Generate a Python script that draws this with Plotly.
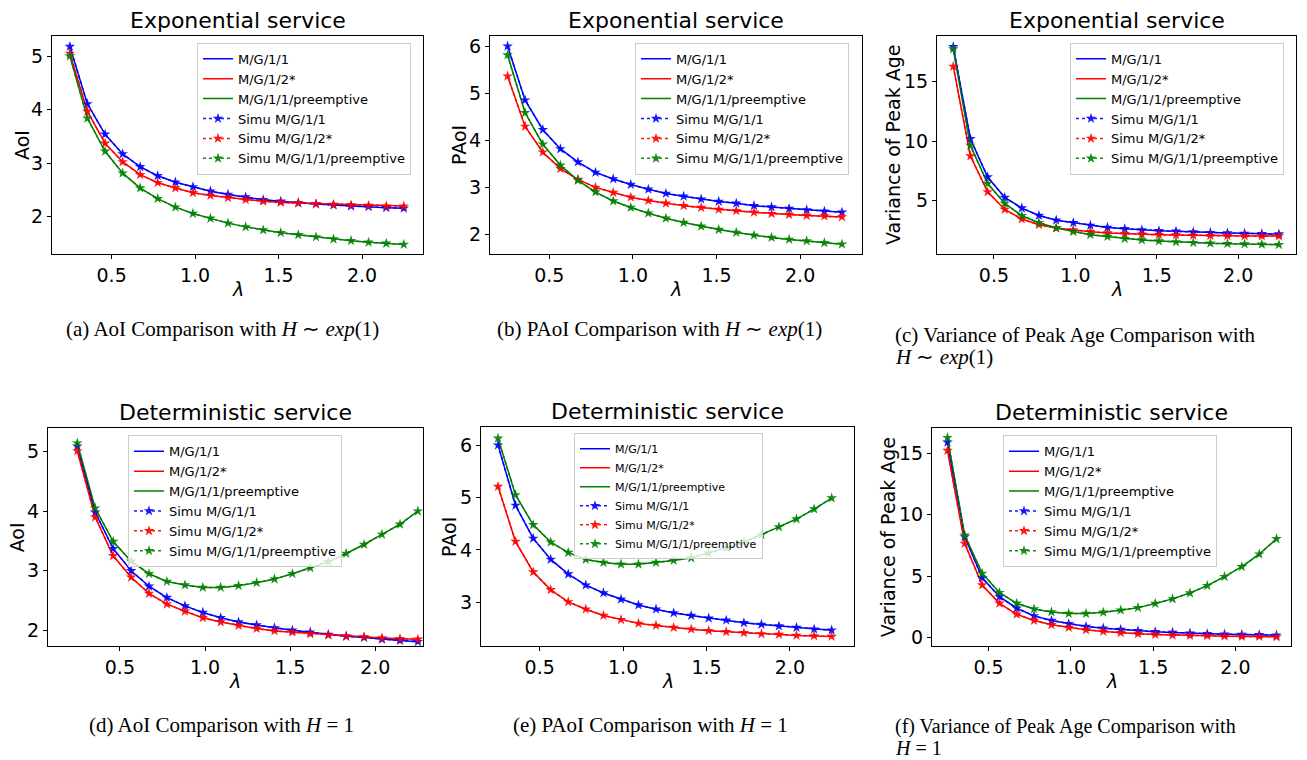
import plotly.graph_objects as go

W, H = 1307, 760

lam = [0.25, 0.355, 0.461, 0.566, 0.671, 0.776, 0.882, 0.987, 1.092, 1.197,
       1.303, 1.408, 1.513, 1.618, 1.724, 1.829, 1.934, 2.039, 2.145, 2.25]

series_names = ["M/G/1/1", "M/G/1/2*", "M/G/1/1/preemptive"]
simu_names = ["Simu M/G/1/1", "Simu M/G/1/2*", "Simu M/G/1/1/preemptive"]
colors = ["#0000ff", "#ff0000", "#008000"]

# (a) AoI, exponential service
exp_aoi_mg11 = [5.19, 4.11, 3.54, 3.17, 2.93, 2.76, 2.64, 2.55, 2.47, 2.41,
                2.36, 2.31, 2.28, 2.25, 2.23, 2.21, 2.19, 2.18, 2.16, 2.15]
exp_aoi_mg12 = [5.06, 3.97, 3.37, 3.02, 2.78, 2.63, 2.53, 2.44, 2.39, 2.35,
                2.31, 2.28, 2.26, 2.25, 2.23, 2.22, 2.21, 2.20, 2.19, 2.19]
exp_aoi_pre = [5.01, 3.84, 3.22, 2.81, 2.53, 2.33, 2.17, 2.05, 1.96, 1.87,
               1.80, 1.74, 1.69, 1.65, 1.61, 1.57, 1.54, 1.51, 1.49, 1.47]

# (b) PAoI, exponential service
exp_paoi_mg11 = [6.01, 4.86, 4.23, 3.82, 3.54, 3.32, 3.18, 3.06, 2.96, 2.87,
                 2.81, 2.75, 2.70, 2.66, 2.61, 2.58, 2.55, 2.52, 2.49, 2.47]
exp_paoi_mg12 = [5.37, 4.30, 3.75, 3.40, 3.17, 3.00, 2.89, 2.79, 2.72, 2.66,
                 2.61, 2.57, 2.53, 2.50, 2.47, 2.44, 2.42, 2.40, 2.39, 2.37]
exp_paoi_pre = [5.82, 4.59, 3.92, 3.47, 3.15, 2.90, 2.71, 2.57, 2.45, 2.34,
                2.25, 2.17, 2.10, 2.04, 1.98, 1.93, 1.89, 1.86, 1.82, 1.79]

# (c) Variance of peak age, exponential service
exp_var_mg11 = [17.92, 10.21, 7.00, 5.28, 4.39, 3.77, 3.38, 3.16, 2.94, 2.77,
                2.66, 2.55, 2.49, 2.44, 2.38, 2.33, 2.30, 2.27, 2.24, 2.21]
exp_var_mg12 = [16.28, 8.76, 5.75, 4.28, 3.47, 3.00, 2.72, 2.55, 2.41, 2.30,
                2.24, 2.19, 2.16, 2.13, 2.10, 2.08, 2.07, 2.06, 2.05, 2.05]
exp_var_pre = [17.73, 9.65, 6.45, 4.78, 3.75, 3.16, 2.72, 2.41, 2.16, 2.00,
               1.83, 1.72, 1.63, 1.55, 1.49, 1.44, 1.41, 1.38, 1.35, 1.32]

# (d) AoI, deterministic service
det_aoi_mg11 = [5.09, 3.98, 3.37, 3.00, 2.74, 2.55, 2.41, 2.30, 2.21, 2.14,
                2.09, 2.04, 2.00, 1.97, 1.93, 1.90, 1.88, 1.85, 1.83, 1.81]
det_aoi_mg12 = [5.01, 3.90, 3.25, 2.89, 2.62, 2.44, 2.32, 2.21, 2.14, 2.08,
                2.03, 1.99, 1.97, 1.94, 1.92, 1.90, 1.89, 1.87, 1.86, 1.85]
det_aoi_pre = [5.14, 4.05, 3.49, 3.16, 2.95, 2.82, 2.76, 2.72, 2.72, 2.75,
               2.80, 2.86, 2.95, 3.05, 3.15, 3.29, 3.44, 3.61, 3.78, 4.00]

# (e) PAoI, deterministic service
det_paoi_mg11 = [6.00, 4.85, 4.22, 3.82, 3.54, 3.33, 3.18, 3.06, 2.95, 2.87,
                 2.80, 2.75, 2.70, 2.66, 2.61, 2.58, 2.55, 2.52, 2.49, 2.47]
det_paoi_mg12 = [5.21, 4.16, 3.58, 3.24, 3.01, 2.87, 2.75, 2.67, 2.60, 2.56,
                 2.52, 2.49, 2.46, 2.44, 2.42, 2.40, 2.39, 2.37, 2.36, 2.35]
det_paoi_pre = [6.13, 5.05, 4.48, 4.15, 3.95, 3.82, 3.76, 3.73, 3.73, 3.76,
                3.80, 3.85, 3.94, 4.04, 4.15, 4.29, 4.44, 4.59, 4.78, 4.99]

# (f) Variance of peak age, deterministic service
det_var_mg11 = [15.89, 8.19, 4.86, 3.32, 2.38, 1.76, 1.38, 1.11, 0.89, 0.76,
                0.65, 0.54, 0.46, 0.41, 0.35, 0.30, 0.27, 0.24, 0.22, 0.19]
det_var_mg12 = [15.22, 7.65, 4.27, 2.78, 1.89, 1.38, 1.03, 0.81, 0.62, 0.49,
                0.38, 0.30, 0.24, 0.19, 0.16, 0.14, 0.11, 0.08, 0.08, 0.05]
det_var_pre = [16.27, 8.32, 5.22, 3.65, 2.78, 2.32, 2.08, 1.95, 1.95, 2.05,
               2.22, 2.43, 2.76, 3.14, 3.62, 4.22, 4.95, 5.76, 6.78, 8.03]

titles = ["Exponential service"] * 3 + ["Deterministic service"] * 3
ylabels = ["AoI", "PAoI", "Variance of Peak Age"] * 2
captions = [
    ["(a) AoI Comparison with <i>H</i> ∼ <i>exp</i>(1)"],
    ["(b) PAoI Comparison with <i>H</i> ∼ <i>exp</i>(1)"],
    ["(c) Variance of Peak Age Comparison with", "<i>H</i> ∼ <i>exp</i>(1)"],
    ["(d) AoI Comparison with <i>H</i> = 1"],
    ["(e) PAoI Comparison with <i>H</i> = 1"],
    ["(f) Variance of Peak Age Comparison with", "<i>H</i> = 1"],
]
yticks = [[2, 3, 4, 5], [2, 3, 4, 5, 6], [5, 10, 15],
          [2, 3, 4, 5], [3, 4, 5, 6], [0, 5, 10, 15]]
xticks = [0.5, 1.0, 1.5, 2.0]
xticklabels = ["0.5", "1.0", "1.5", "2.0"]

panels = [
    (exp_aoi_mg11, exp_aoi_mg12, exp_aoi_pre),
    (exp_paoi_mg11, exp_paoi_mg12, exp_paoi_pre),
    (exp_var_mg11, exp_var_mg12, exp_var_pre),
    (det_aoi_mg11, det_aoi_mg12, det_aoi_pre),
    (det_paoi_mg11, det_paoi_mg12, det_paoi_pre),
    (det_var_mg11, det_var_mg12, det_var_pre),
]

# Layout (pixels): axes boxes, ranges, legend boxes
boxes = [(52, 423, 35, 254), (490, 862, 35, 254), (937, 1296, 35, 254),
         (48, 423, 429, 648), (481, 854, 428, 648), (932, 1291, 429, 648)]
xranges = [[0.143, 2.365], [0.145, 2.37], [0.15, 2.355],
           [0.078, 2.28], [0.148, 2.384], [0.156, 2.338]]
yranges = [[1.29, 5.39], [1.58, 6.23], [0.54, 18.84],
           [1.73, 5.39], [2.16, 6.34], [-0.73, 17.03]]
legend_pos = [(411, 42, "right"), (849, 42, "right"), (1284, 42, "right"),
              (128, 436, "left"), (574, 434, "left"), (1003, 436, "left")]
legend_font = [13, 13, 13, 13, 11, 13]
ylabel_x = [22, 459, 893, 17, 449, 888]
caption_pos = [(222, [329], "center", 21), (659, [329], "center", 21),
               (893, [335, 357], "left", 21),
               (221, [727], "center", 21), (650, [727], "center", 21),
               (893, [728, 750], "left", 20)]

fig = go.Figure()
layout = dict(
    width=W, height=H, margin=dict(l=0, r=0, t=0, b=0),
    paper_bgcolor="white", plot_bgcolor="white",
    font=dict(family="DejaVu Sans", color="black"),
    showlegend=True,
)
annotations = []


def px_x(p):
    return p / W


def px_y(p):
    return 1 - p / H


for i in range(6):
    n = "" if i == 0 else str(i + 1)
    xa, ya = "x" + n, "y" + n
    lg = "legend" if i == 0 else "legend" + str(i + 1)
    vals = panels[i]
    for k in range(3):
        fig.add_trace(go.Scatter(
            x=lam, y=vals[k], mode="lines", name=series_names[k],
            line=dict(color=colors[k], width=1.5),
            xaxis=xa, yaxis=ya, legend=lg))
    for k in range(3):
        fig.add_trace(go.Scatter(
            x=lam, y=vals[k], mode="lines+markers", name=simu_names[k],
            line=dict(color=colors[k], width=1.5, dash="dot"),
            marker=dict(symbol="star", size=8, color=colors[k]),
            opacity=0.9,
            xaxis=xa, yaxis=ya, legend=lg))
    l, r, t, b = boxes[i]
    common = dict(showline=True, linecolor="black", linewidth=1, mirror=True,
                  ticks="outside", ticklen=4, tickcolor="black",
                  showgrid=False, zeroline=False,
                  tickfont=dict(size=19, family="DejaVu Sans", color="black"))
    layout["xaxis" + n] = dict(domain=[px_x(l), px_x(r)], range=xranges[i],
                               anchor=ya, tickvals=xticks,
                               ticktext=xticklabels, **common)
    layout["yaxis" + n] = dict(domain=[px_y(b), px_y(t)], range=yranges[i],
                               anchor=xa, tickvals=yticks[i], **common)
    lx, ly, anc = legend_pos[i]
    layout[lg] = dict(
        x=px_x(lx), y=px_y(ly), xanchor=anc, yanchor="top",
        xref="paper", yref="paper",
        bgcolor="rgba(255,255,255,0.8)", bordercolor="#cccccc", borderwidth=1,
        font=dict(size=legend_font[i], family="DejaVu Sans", color="black"),
        itemwidth=30, tracegroupgap=0)
    # title
    annotations.append(dict(
        text=titles[i], x=px_x((l + r) / 2), y=px_y(t - 1), xref="paper",
        yref="paper", xanchor="center", yanchor="bottom", showarrow=False,
        font=dict(size=22, family="DejaVu Sans", color="black")))
    # y label
    annotations.append(dict(
        text=ylabels[i], x=px_x(ylabel_x[i]), y=px_y((t + b) / 2),
        xref="paper", yref="paper", xanchor="center", yanchor="middle",
        textangle=-90, showarrow=False,
        font=dict(size=19, family="DejaVu Sans", color="black")))
    # x label
    annotations.append(dict(
        text="<i>λ</i>", x=px_x((l + r) / 2), y=px_y(b + 35),
        xref="paper", yref="paper", xanchor="center", yanchor="middle",
        showarrow=False,
        font=dict(size=19, family="DejaVu Sans", color="black")))
    # caption
    cx, cys, calign, csize = caption_pos[i]
    for line_text, cy in zip(captions[i], cys):
        annotations.append(dict(
            text=line_text, x=px_x(cx), y=px_y(cy), xref="paper",
            yref="paper", xanchor=calign, yanchor="middle", align="left",
            showarrow=False,
            font=dict(size=csize, family="Liberation Serif", color="black")))

layout["annotations"] = annotations
fig.update_layout(**layout)
fig.write_html("out.html",
               config={"displayModeBar": False},
               post_script="document.body.style.margin='0';"
                           "document.body.style.overflow='hidden';")
